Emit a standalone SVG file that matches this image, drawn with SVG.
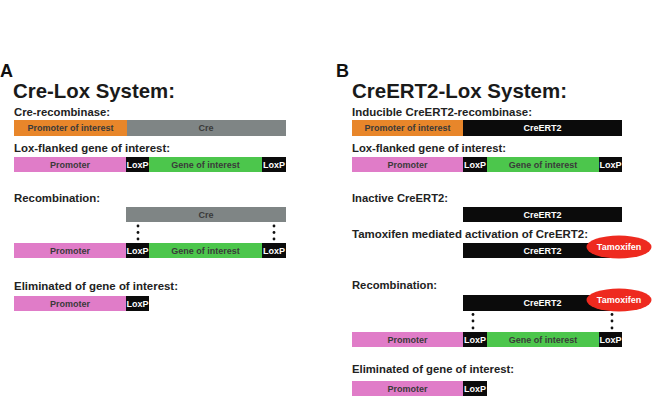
<svg xmlns="http://www.w3.org/2000/svg" width="655" height="405" viewBox="0 0 655 405">
<style>
text{font-family:"Liberation Sans",Arial,sans-serif;font-weight:bold}
.panel{font-size:18px;fill:#111}
.title{font-size:21px;fill:#1a1a1a}
.head{font-size:11.5px;fill:#222}
.bt{font-size:9px;text-anchor:middle;fill:#3a3a3a}
.wt{font-size:9px;text-anchor:middle;fill:#fff}
.or{fill:#e8862a}.gr{fill:#7f8585}.pk{fill:#e07cc8}.gn{fill:#4cc64c}.bk{fill:#0b0b0b}
.tam{fill:#ee2a1f}
.dot{fill:#111}
</style>
<rect width="655" height="405" fill="#fff"/>
<text class="panel" x="0" y="77">A</text>
<text class="panel" x="336" y="77">B</text>
<text class="title" x="13" y="98" textLength="162" lengthAdjust="spacingAndGlyphs">Cre-Lox System:</text>
<text class="title" x="352" y="98" textLength="215" lengthAdjust="spacingAndGlyphs">CreERT2-Lox System:</text>

<g id="a-cre-recombinase">
<text class="head" x="14" y="116" textLength="96" lengthAdjust="spacingAndGlyphs">Cre-recombinase:</text>
<rect class="or" x="14" y="120" width="113" height="16"/><text class="bt" x="70.5" y="131.2">Promoter of interest</text>
<rect class="gr" x="127" y="120" width="159" height="16"/><text class="bt" x="206" y="131.2">Cre</text>
</g>
<g id="a-lox-flanked">
<text class="head" x="14" y="152" textLength="156" lengthAdjust="spacingAndGlyphs">Lox-flanked gene of interest:</text>
<rect class="pk" x="14" y="157" width="112" height="15"/><text class="bt" x="70" y="168">Promoter</text>
<rect class="bk" x="126" y="157" width="23" height="15"/><text class="wt" x="137.5" y="168">LoxP</text>
<rect class="gn" x="149" y="157" width="113" height="15"/><text class="bt" x="205.5" y="168">Gene of interest</text>
<rect class="bk" x="262" y="157" width="24" height="15"/><text class="wt" x="274" y="168">LoxP</text>
</g>
<g id="a-recombination">
<text class="head" x="14" y="202" textLength="86" lengthAdjust="spacingAndGlyphs">Recombination:</text>
<rect class="gr" x="126" y="207" width="160" height="15"/><text class="bt" x="206" y="218">Cre</text>
<rect class="pk" x="14" y="243" width="112" height="15"/><text class="bt" x="70" y="254">Promoter</text>
<rect class="bk" x="126" y="243" width="23" height="15"/><text class="wt" x="137.5" y="254">LoxP</text>
<rect class="gn" x="149" y="243" width="113" height="15"/><text class="bt" x="205.5" y="254">Gene of interest</text>
<rect class="bk" x="262" y="243" width="24" height="15"/><text class="wt" x="274" y="254">LoxP</text>
</g>
<g id="a-eliminated">
<text class="head" x="14" y="290" textLength="164" lengthAdjust="spacingAndGlyphs">Eliminated of gene of interest:</text>
<rect class="pk" x="14" y="296" width="112" height="15"/><text class="bt" x="70" y="307">Promoter</text>
<rect class="bk" x="126" y="296" width="23" height="15"/><text class="wt" x="137.5" y="307">LoxP</text>
</g>

<g id="b-inducible">
<text class="head" x="352" y="116" textLength="180" lengthAdjust="spacingAndGlyphs">Inducible CreERT2-recombinase:</text>
<rect class="or" x="352" y="120" width="111" height="16"/><text class="bt" x="407.5" y="131.2">Promoter of interest</text>
<rect class="bk" x="463" y="120" width="159" height="16"/><text class="wt" x="542.5" y="131.2">CreERT2</text>
</g>
<g id="b-lox-flanked">
<text class="head" x="352" y="152" textLength="154" lengthAdjust="spacingAndGlyphs">Lox-flanked gene of interest:</text>
<rect class="pk" x="352" y="157" width="111" height="15"/><text class="bt" x="407.5" y="168">Promoter</text>
<rect class="bk" x="463" y="157" width="24" height="15"/><text class="wt" x="475" y="168">LoxP</text>
<rect class="gn" x="487" y="157" width="112" height="15"/><text class="bt" x="543" y="168">Gene of interest</text>
<rect class="bk" x="599" y="157" width="23" height="15"/><text class="wt" x="610.5" y="168">LoxP</text>
</g>
<g id="b-inactive">
<text class="head" x="352" y="202" textLength="96" lengthAdjust="spacingAndGlyphs">Inactive CreERT2:</text>
<rect class="bk" x="463" y="207" width="159" height="15"/><text class="wt" x="542.5" y="218">CreERT2</text>
</g>
<g id="b-activation">
<text class="head" x="352" y="238" textLength="236" lengthAdjust="spacingAndGlyphs">Tamoxifen mediated activation of CreERT2:</text>
<rect class="bk" x="463" y="243" width="159" height="15"/><text class="wt" x="542.5" y="254">CreERT2</text>
<ellipse class="tam" cx="619" cy="247" rx="32.5" ry="11.5"/><text class="wt" x="619" y="250.2">Tamoxifen</text>
</g>
<g id="b-recombination">
<text class="head" x="352" y="289" textLength="85" lengthAdjust="spacingAndGlyphs">Recombination:</text>
<rect class="bk" x="463" y="295" width="159" height="16"/><text class="wt" x="542.5" y="306.2">CreERT2</text>
<ellipse class="tam" cx="619" cy="300" rx="32.5" ry="11.5"/><text class="wt" x="619" y="303.2">Tamoxifen</text>
<rect class="pk" x="352" y="332" width="111" height="15"/><text class="bt" x="407.5" y="343">Promoter</text>
<rect class="bk" x="463" y="332" width="24" height="15"/><text class="wt" x="475" y="343">LoxP</text>
<rect class="gn" x="487" y="332" width="112" height="15"/><text class="bt" x="543" y="343">Gene of interest</text>
<rect class="bk" x="599" y="332" width="23" height="15"/><text class="wt" x="610.5" y="343">LoxP</text>
</g>
<g id="b-eliminated">
<text class="head" x="352" y="373" textLength="162" lengthAdjust="spacingAndGlyphs">Eliminated of gene of interest:</text>
<rect class="pk" x="352" y="381" width="111" height="15"/><text class="bt" x="407.5" y="392">Promoter</text>
<rect class="bk" x="463" y="381" width="24" height="15"/><text class="wt" x="475" y="392">LoxP</text>
</g>

<g id="connectors">
<circle class="dot" cx="138" cy="226" r="1.4"/><circle class="dot" cx="138" cy="232.5" r="1.4"/><circle class="dot" cx="138" cy="239" r="1.4"/>
<circle class="dot" cx="274" cy="226" r="1.4"/><circle class="dot" cx="274" cy="232.5" r="1.4"/><circle class="dot" cx="274" cy="239" r="1.4"/>
<circle class="dot" cx="473" cy="314.5" r="1.4"/><circle class="dot" cx="473" cy="321" r="1.4"/><circle class="dot" cx="473" cy="328" r="1.4"/>
<circle class="dot" cx="612" cy="314.5" r="1.4"/><circle class="dot" cx="612" cy="321" r="1.4"/><circle class="dot" cx="612" cy="328" r="1.4"/>
</g>
</svg>
